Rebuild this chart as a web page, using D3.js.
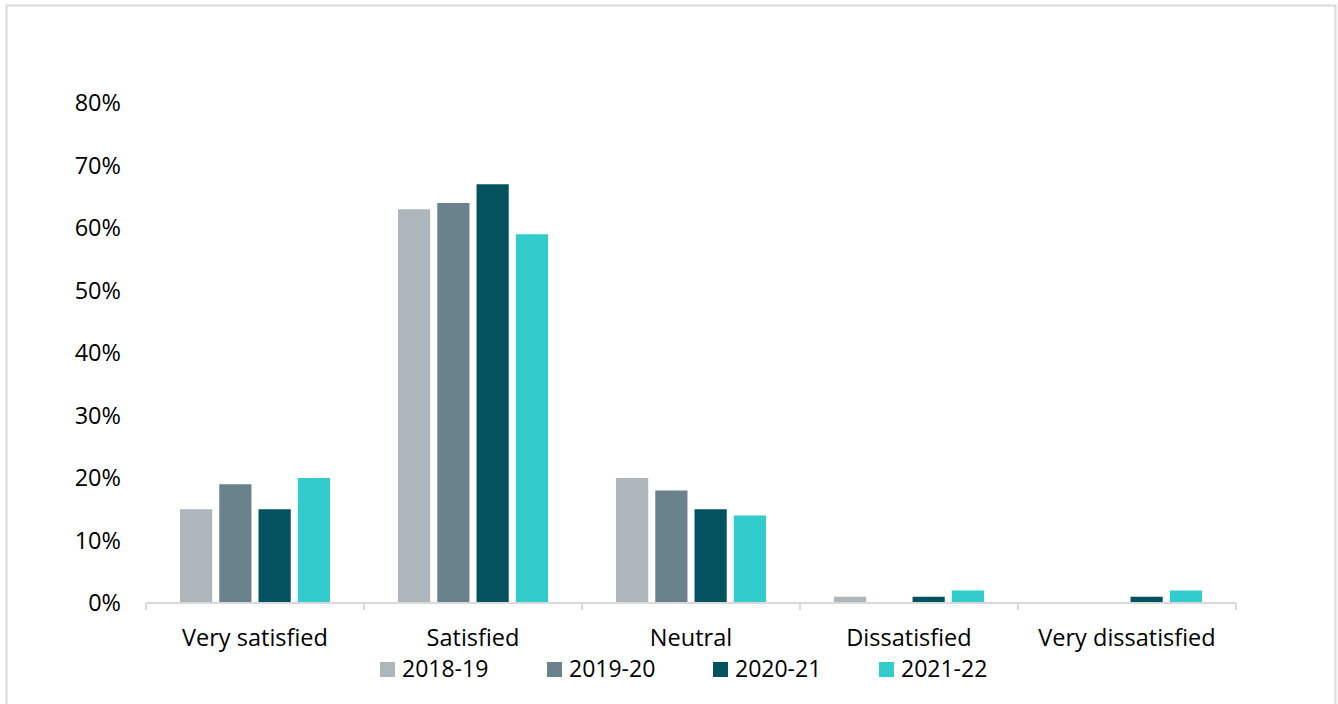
<!DOCTYPE html>
<html>
<head>
<meta charset="utf-8">
<script src="https://cdn.jsdelivr.net/npm/d3@7"></script>
<style>
  body { margin: 0; background: #fff; }
  svg text { font-family: "Open Sans", sans-serif; fill: #000; }
</style>
</head>
<body>
<svg id="chart" width="1338" height="704"></svg>
<script>
// data
const categories = ['Very satisfied', 'Satisfied', 'Neutral', 'Dissatisfied', 'Very dissatisfied'];
const years = ['2018-19', '2019-20', '2020-21', '2021-22'];
const v2018 = [15, 63, 20, 1, 0];
const v2019 = [19, 64, 18, 0, 0];
const v2020 = [15, 67, 15, 1, 1];
const v2021 = [20, 59, 14, 2, 2];
const yTicks = [0, 10, 20, 30, 40, 50, 60, 70, 80];
const colors = ['#adb6bb', '#6a828c', '#02535f', '#33cccc'];

const series = [v2018, v2019, v2020, v2021];

const svg = d3.select('#chart');

// outer frame
svg.append('rect')
  .attr('x', 6.5).attr('y', 5.5)
  .attr('width', 1329).attr('height', 710)
  .attr('fill', 'none')
  .attr('stroke', '#d9d9d9')
  .attr('stroke-width', 2);

const plotLeft = 146, plotRight = 1236, plotTop = 103, plotBottom = 603;

const x0 = d3.scaleBand().domain(categories).range([plotLeft, plotRight]).paddingInner(0).paddingOuter(0);
const x1 = d3.scaleBand().domain(years).range([34, x0.bandwidth() - 34]).paddingInner(0.18);
const y = d3.scaleLinear().domain([0, 80]).range([plotBottom, plotTop]);

// bars
const groups = svg.append('g').selectAll('g')
  .data(categories)
  .join('g')
  .attr('transform', d => 'translate(' + x0(d) + ',0)');

groups.selectAll('rect')
  .data((c, i) => years.map((yr, k) => ({ yr: yr, k: k, v: series[k][i] })))
  .join('rect')
  .attr('x', d => x1(d.yr))
  .attr('width', x1.bandwidth())
  .attr('y', d => y(d.v))
  .attr('height', d => plotBottom - y(d.v))
  .attr('fill', d => colors[d.k]);

// y axis labels (no line)
svg.append('g').selectAll('text')
  .data(yTicks)
  .join('text')
  .attr('x', 121)
  .attr('y', d => y(d))
  .attr('dy', '0.35em')
  .attr('text-anchor', 'end')
  .attr('font-size', '23.5px')
  .text(d => d + '%');

// x axis
const xAxisGroup = svg.append('g').attr('transform', 'translate(0,' + plotBottom + ')');
xAxisGroup.append('line')
  .attr('x1', plotLeft).attr('x2', plotRight)
  .attr('stroke', '#d9d9d9').attr('stroke-width', 2);
const tickPos = categories.map(c => x0(c)).concat([plotRight]);
xAxisGroup.selectAll('.tk')
  .data(tickPos)
  .join('line')
  .attr('class', 'tk')
  .attr('x1', d => d).attr('x2', d => d)
  .attr('y1', 0).attr('y2', 7)
  .attr('stroke', '#d9d9d9').attr('stroke-width', 2);
xAxisGroup.selectAll('text')
  .data(categories)
  .join('text')
  .attr('x', d => x0(d) + x0.bandwidth() / 2)
  .attr('y', 43)
  .attr('text-anchor', 'middle')
  .attr('font-size', '23.5px')
  .text(d => d);

// legend
const legendX = [380, 547, 713, 879];
const legend = svg.append('g').selectAll('g')
  .data(years)
  .join('g')
  .attr('transform', (d, i) => 'translate(' + legendX[i] + ',662)');
legend.append('rect')
  .attr('width', 15).attr('height', 15)
  .attr('fill', (d, i) => colors[i]);
legend.append('text')
  .attr('x', 22)
  .attr('y', 15)
  .attr('font-size', '23px')
  .text(d => d);
</script>
</body>
</html>
